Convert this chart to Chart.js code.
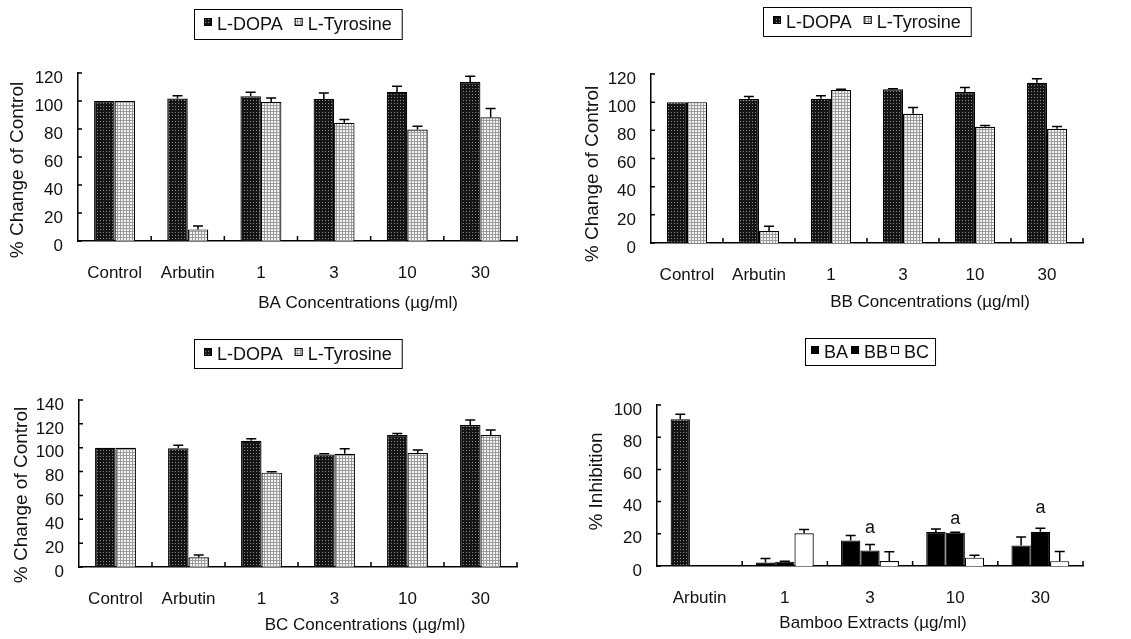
<!DOCTYPE html>
<html>
<head>
<meta charset="utf-8">
<title>Bamboo extracts - tyrosinase</title>
<script src="https://cdn.jsdelivr.net/npm/chart.js@4.4.0/dist/chart.umd.min.js"></script>
<style>
  html, body { margin: 0; padding: 0; background: #fff; }
  body { width: 1131px; height: 639px; position: relative; overflow: hidden; }
  canvas { position: absolute; }
</style>
</head>
<body>
<canvas id="chartBA" width="565" height="320" style="left:0;top:0"></canvas>
<canvas id="chartBB" width="566" height="320" style="left:565px;top:0"></canvas>
<canvas id="chartBC" width="565" height="319" style="left:0;top:320px"></canvas>
<canvas id="chartInh" width="566" height="319" style="left:565px;top:320px"></canvas>
<script>
// ---- data ----
const concLabels = ["Control", "Arbutin", "1", "3", "10", "30"];

const baDopa    = [100, 101.7, 103.4, 101.5, 106.5, 113.6];
const baDopaErr = [0, 2.1, 2.8, 4.2, 4, 4];
const baTyr     = [100, 8.3, 99.3, 84.4, 79.6, 88.4];
const baTyrErr  = [0, 2.4, 2.9, 2.3, 2.4, 6.2];

const bbDopa    = [100, 102.2, 102.4, 109.1, 107.2, 113.8];
const bbDopaErr = [0, 1.9, 2.2, 0.5, 3.3, 2.9];
const bbTyr     = [100, 8.5, 108.6, 91.8, 82.5, 81.1];
const bbTyrErr  = [0, 3.4, 0.5, 4.5, 1, 1.7];

const bcDopa    = [100, 99.5, 105.9, 94.4, 110.6, 119];
const bcDopaErr = [0, 2.5, 1.7, 0.6, 1.4, 4.2];
const bcTyr     = [100, 8.1, 79.1, 95, 95.6, 110.6];
const bcTyrErr  = [0, 2, 0.8, 4.2, 2.5, 4.2];

const inhLabels = ["Arbutin", "1", "3", "10", "30"];
const inhBA     = [91.1, 2.1, 15.9, 21.1, 12.8];
const inhBAErr  = [3.1, 2.5, 3.1, 1.9, 5.2];
const inhBB     = [null, 2.7, 9.7, 20.7, 21.3];
const inhBBErr  = [null, 0.3, 3.6, 0.3, 2.1];
const inhBC     = [null, 20.3, 3.1, 5.2, 3];
const inhBCErr  = [null, 2.3, 5.8, 1.4, 6];
const sigMarks  = ["", "", "a", "a", "a"];
const sigLevels = [null, null, 23.8, 29, 35.8];

const FONT = "'Liberation Sans', Arial, sans-serif";

// stippled fills like the printed figure
function makePattern(bg, fg, kind)
{
  const c = document.createElement("canvas");
  c.width = 3; c.height = 3;
  const g = c.getContext("2d");
  g.fillStyle = bg;
  g.fillRect(0, 0, 3, 3);
  g.fillStyle = fg;
  if (kind === "dots")
    g.fillRect(1, 1, 1, 1);
  else
  {
    g.fillRect(0, 0, 3, 1);
    g.fillRect(0, 0, 1, 3);
  }
  return g.createPattern(c, "repeat");
}

const dopaFill = makePattern("#141414", "#8a8a8a", "dots");
const tyrFill = makePattern("#f2f2f2", "#9c9c9c", "grid");

// upward-only error bars
const errorBars = {
  id: "errorBars",
  afterDatasetsDraw(chart) {
    const ctx = chart.ctx, ys = chart.scales.y;
    ctx.save();
    ctx.strokeStyle = "#000";
    ctx.lineWidth = 1.5;
    chart.data.datasets.forEach((ds, i) => {
      if (!ds.errors) return;
      chart.getDatasetMeta(i).data.forEach((bar, j) => {
        const v = ds.data[j], e = ds.errors[j];
        if (v == null || !e) return;
        const top = ys.getPixelForValue(v + e);
        ctx.beginPath();
        ctx.moveTo(bar.x, bar.y);
        ctx.lineTo(bar.x, top);
        ctx.moveTo(bar.x - 5, top);
        ctx.lineTo(bar.x + 5, top);
        ctx.stroke();
      });
    });
    ctx.restore();
  }
};

// small inward tick marks on both axes
const innerTicks = {
  id: "innerTicks",
  afterDraw(chart) {
    const ctx = chart.ctx, xs = chart.scales.x, ys = chart.scales.y, a = chart.chartArea;
    ctx.save();
    ctx.strokeStyle = "#000";
    ctx.lineWidth = 1.5;
    ctx.beginPath();
    ys.ticks.forEach(t => {
      const y = ys.getPixelForValue(t.value);
      ctx.moveTo(a.left, y);
      ctx.lineTo(a.left + 4, y);
    });
    for (let i = 1; i <= xs.ticks.length; i++)
    {
      const x = xs.getPixelForValue(i - 0.5);
      ctx.moveTo(x, a.bottom);
      ctx.lineTo(x, a.bottom - 5);
    }
    ctx.stroke();
    ctx.restore();
  }
};

// legend in a bordered box, centred over the plot area
const boxLegend = {
  id: "boxLegend",
  afterDraw(chart, args, opts) {
    const ctx = chart.ctx, a = chart.chartArea;
    const sw = 8, gap = 5;
    ctx.save();
    ctx.font = "18px " + FONT;
    const items = chart.data.datasets.map(ds => {
      const bg = Array.isArray(ds.backgroundColor) ? ds.backgroundColor[ds.backgroundColor.length - 1] : ds.backgroundColor;
      return { text: ds.label, fill: bg, w: ctx.measureText(ds.label).width };
    });
    let total = opts.padX * 2 + opts.sep * (items.length - 1);
    items.forEach(it => total += sw + gap + it.w);

    let x = Math.round((a.left + a.right) / 2 - total / 2);
    const top = Math.round(opts.y - opts.h / 2);
    ctx.strokeStyle = "#000";
    ctx.lineWidth = 1;
    ctx.strokeRect(x + 0.5, top + 0.5, total, opts.h);

    x += opts.padX;
    ctx.textBaseline = "middle";
    ctx.textAlign = "left";
    ctx.fillStyle = "#111";
    items.forEach(it => {
      const sy = Math.round(opts.y - sw / 2 - 2);
      ctx.fillStyle = it.fill;
      ctx.fillRect(x, sy, sw, sw);
      ctx.strokeRect(x + 0.5, sy + 0.5, sw - 1, sw - 1);
      ctx.fillStyle = "#111";
      ctx.fillText(it.text, x + sw + gap, opts.y + 2);
      x += sw + gap + it.w + opts.sep;
    });
    ctx.restore();
  }
};

// axis titles placed where the figure has them
const axisTitles = {
  id: "axisTitles",
  afterDraw(chart, args, opts) {
    const ctx = chart.ctx;
    ctx.save();
    ctx.fillStyle = "#111";
    ctx.textAlign = "center";
    ctx.textBaseline = "middle";
    ctx.font = "17px " + FONT;
    ctx.fillText(opts.xText, opts.xPos[0], opts.xPos[1]);
    ctx.translate(opts.yPos[0], opts.yPos[1]);
    ctx.rotate(-Math.PI / 2);
    ctx.font = "19px " + FONT;
    ctx.fillText(opts.yText, 0, 0);
    ctx.restore();
  }
};

// significance letters above groups
const sigLetters = {
  id: "sigLetters",
  afterDraw(chart, args, opts) {
    if (!opts.marks) return;
    const ctx = chart.ctx, xs = chart.scales.x, ys = chart.scales.y;
    ctx.save();
    ctx.fillStyle = "#111";
    ctx.font = "18px " + FONT;
    ctx.textAlign = "center";
    ctx.textBaseline = "middle";
    opts.marks.forEach((m, i) => {
      if (!m) return;
      ctx.fillText(m, xs.getPixelForValue(i), ys.getPixelForValue(opts.levels[i]));
    });
    ctx.restore();
  }
};

function makeChart(id, labels, datasets, p)
{
  return new Chart(document.getElementById(id), {
    type: "bar",
    data: { labels: labels, datasets: datasets },
    plugins: [errorBars, innerTicks, boxLegend, axisTitles, sigLetters],
    options: {
      responsive: false,
      animation: false,
      layout: { padding: { left: 0, top: p.top, right: p.right, bottom: 0 } },
      datasets: { bar: { categoryPercentage: p.catPct, barPercentage: 1, borderColor: "#000", borderWidth: 1.2 } },
      plugins: {
        legend: { display: false },
        tooltip: { enabled: false },
        boxLegend: p.legend,
        axisTitles: p.titles,
        sigLetters: p.sig || {}
      },
      scales: {
        x: {
          offset: true,
          grid: { display: false, drawTicks: false },
          border: { display: true, color: "#000", width: 1.5 },
          ticks: { color: "#111", font: { family: FONT, size: 17 }, padding: 22, maxRotation: 0, autoSkip: false },
          afterFit(s) { s.height = p.bottomH; }
        },
        y: {
          min: 0,
          max: p.yMax,
          grid: { display: false, drawTicks: false },
          border: { display: true, color: "#000", width: 1.5 },
          ticks: { stepSize: 20, color: "#111", font: { family: FONT, size: 17 }, padding: 15, labelOffset: 5 },
          afterFit(s) { s.width = p.leftW; }
        }
      }
    }
  });
}

function pairSets(dopa, dopaErr, tyr, tyrErr)
{
  return [
    { label: "L-DOPA", data: dopa, errors: dopaErr, backgroundColor: dopaFill },
    { label: "L-Tyrosine", data: tyr, errors: tyrErr, backgroundColor: tyrFill }
  ];
}

makeChart("chartBA", concLabels, pairSets(baDopa, baDopaErr, baTyr, baTyrErr), {
  top: 73, right: 48, bottomH: 79, leftW: 78, yMax: 120, catPct: 0.56,
  legend: { y: 23.5, h: 30, padX: 10, sep: 12 },
  titles: { xText: "BA Concentrations (\u00b5g/ml)", xPos: [358, 303], yText: "% Change of Control", yPos: [18, 170] }
});

makeChart("chartBB", concLabels, pairSets(bbDopa, bbDopaErr, bbTyr, bbTyrErr), {
  top: 74, right: 48, bottomH: 77, leftW: 86, yMax: 120, catPct: 0.56,
  legend: { y: 21.5, h: 29, padX: 10, sep: 12 },
  titles: { xText: "BB Concentrations (\u00b5g/ml)", xPos: [365, 302], yText: "% Change of Control", yPos: [28, 174] }
});

makeChart("chartBC", concLabels, pairSets(bcDopa, bcDopaErr, bcTyr, bcTyrErr), {
  top: 80, right: 48, bottomH: 72, leftW: 79, yMax: 140, catPct: 0.56,
  legend: { y: 33.5, h: 29, padX: 10, sep: 12 },
  titles: { xText: "BC Concentrations (\u00b5g/ml)", xPos: [365, 305], yText: "% Change of Control", yPos: [22, 175] }
});

makeChart("chartInh", inhLabels, [
  { label: "BA", data: inhBA, errors: inhBAErr, backgroundColor: [dopaFill, "#000", "#000", "#000", "#000"] },
  { label: "BB", data: inhBB, errors: inhBBErr, backgroundColor: "#000" },
  { label: "BC", data: inhBC, errors: inhBCErr, backgroundColor: "#fff" }
], {
  top: 85, right: 48, bottomH: 73, leftW: 92, yMax: 100, catPct: 0.68,
  legend: { y: 31.5, h: 27, padX: 6, sep: 3 },
  titles: { xText: "Bamboo Extracts (\u00b5g/ml)", xPos: [308, 303], yText: "% Inhibition", yPos: [32, 161.5] },
  sig: { marks: sigMarks, levels: sigLevels }
});
</script>
</body>
</html>
